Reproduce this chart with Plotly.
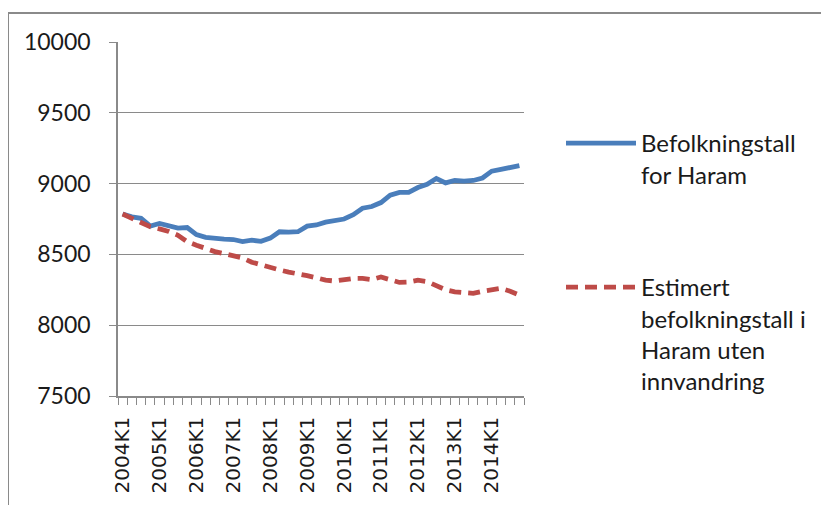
import plotly.graph_objects as go

# quarters 2004K1 .. 2014K4
years = list(range(2004, 2015))
quarters = [f"{y}K{q}" for y in years for q in range(1, 5)]
tick_labels = [f"{y}K1" for y in years]

befolkning = [8785, 8765, 8755, 8700, 8718, 8700, 8685, 8690, 8640, 8620, 8612, 8608,
              8605, 8590, 8600, 8592, 8615, 8660, 8658, 8660, 8700, 8708, 8728, 8740,
              8750, 8780, 8826, 8838, 8866, 8918, 8938, 8938, 8972, 8995, 9036, 9005,
              9022, 9018, 9022, 9040, 9088, 9100, 9115, 9127]

estimert = [8785, 8755, 8720, 8695, 8680, 8662, 8635, 8590, 8565, 8540, 8520, 8505,
            8490, 8475, 8445, 8425, 8405, 8390, 8375, 8365, 8350, 8335, 8318, 8312,
            8322, 8330, 8330, 8322, 8340, 8324, 8302, 8305, 8318, 8308, 8280, 8250,
            8235, 8226, 8225, 8240, 8254, 8260, 8240, 8213]

y_ticks = [7500, 8000, 8500, 9000, 9500, 10000]
y_labels = [str(v) for v in y_ticks]

pos = list(range(len(quarters)))
tick_pos = [quarters.index(t) for t in tick_labels]

# page body adds an 8px offset, so layout positions are shifted back by 8
OFF = 8
W, H = 829, 505
L, R, T, B = 118 - OFF, 524 - OFF, 42 - OFF, 396 - OFF
pw, ph = R - L, B - T


def px_x(x):
    return (x - OFF - L) / pw


def px_y(y):
    return (B - (y - OFF)) / ph


grey = "#8a8a8a"
legend_font = dict(family="Lato", size=24, color="#1a1a1a")

fig = go.Figure()
fig.add_trace(go.Scatter(x=pos, y=befolkning, mode="lines",
                         name="Befolkningstall<br>for Haram",
                         line=dict(color="#4A7EBB", width=4.8),
                         legend="legend"))
fig.add_trace(go.Scatter(x=pos, y=estimert, mode="lines",
                         name="Estimert<br>befolkningstall i<br>Haram uten<br>innvandring",
                         line=dict(color="#BE4B48", width=4.8, dash="12px,7px"),
                         legend="legend2"))

fig.update_layout(
    width=W, height=H,
    margin=dict(l=L, r=W - R, t=T, b=H - B),
    paper_bgcolor="white", plot_bgcolor="white",
    showlegend=True,
    legend=dict(x=px_x(561), y=px_y(121), xanchor="left", yanchor="top",
                valign="top", itemwidth=70, bgcolor="rgba(0,0,0,0)",
                font=legend_font),
    legend2=dict(x=px_x(561), y=px_y(265), xanchor="left", yanchor="top",
                 valign="top", itemwidth=70, bgcolor="rgba(0,0,0,0)",
                 font=legend_font),
    shapes=[dict(type="rect", xref="paper", yref="paper",
                 x0=px_x(8), x1=px_x(850), y0=px_y(530), y1=px_y(13),
                 line=dict(color=grey, width=2), layer="below")],
)

fig.update_xaxes(
    range=[-0.5, len(quarters) - 0.5],
    tickvals=tick_pos, ticktext=tick_labels, tickangle=-90,
    ticks="", showgrid=False, zeroline=False,
    showline=True, linecolor=grey, linewidth=1.5,
    minor=dict(ticks="outside", dtick=1, tick0=-0.5, ticklen=7,
               tickcolor=grey, tickwidth=1, showgrid=False),
    ticklabelstandoff=11,
    tickfont=dict(family="DejaVu Sans", size=20, color="#1a1a1a"),
)
fig.update_yaxes(
    range=[7500, 10000], tickvals=y_ticks, ticktext=y_labels,
    showgrid=True, gridcolor=grey, gridwidth=1.3, zeroline=False,
    showline=True, linecolor=grey, linewidth=1.5,
    ticks="outside", ticklen=7, tickcolor=grey,
    ticklabelstandoff=14,
    tickfont=dict(family="Lato", size=23, color="#1a1a1a"),
)

fig.write_html("out.html")
